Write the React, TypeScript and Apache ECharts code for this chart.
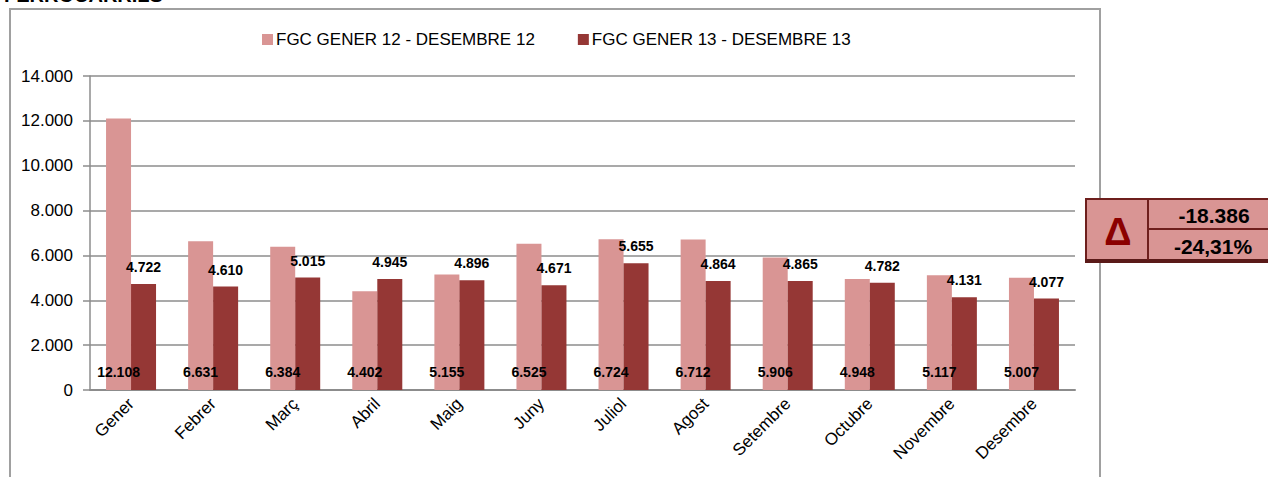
import React, { useEffect, useRef } from "react";
import * as echarts from "echarts";

const months = ["Gener", "Febrer", "Març", "Abril", "Maig", "Juny", "Juliol", "Agost", "Setembre", "Octubre", "Novembre", "Desembre"];
const series12 = [12108, 6631, 6384, 4402, 5155, 6525, 6724, 6712, 5906, 4948, 5117, 5007];
const series13 = [4722, 4610, 5015, 4945, 4896, 4671, 5655, 4864, 4865, 4782, 4131, 4077];
const seriesNames = ["FGC GENER 12 - DESEMBRE 12", "FGC GENER 13 - DESEMBRE 13"];
const deltaAbs = "-18.386";
const deltaPct = "-24,31%";
const titleText = "FERROCARRILS";

const fmt = (v: number) => {
  const s = Math.round(v).toString();
  return s.replace(/\B(?=(\d{3})+(?!\d))/g, ".");
};

const FONT = "'Liberation Sans', Arial, sans-serif";
const PINK = "#D99594";
const DARK = "#953735";
const GRID = "#8c8c8c";
const FRAME = "#a0a0a0";
const BOXBORDER = "#6e1f1d";

export default function App() {
  const ref = useRef<HTMLDivElement>(null);
  useEffect(() => {
    if (!ref.current) return;
    const chart = echarts.init(ref.current, null, { renderer: "svg" });
    chart.setOption({
      animation: false,
      backgroundColor: "#ffffff",
      textStyle: { fontFamily: FONT },
      grid: { left: 90, top: 76, right: 193, bottom: 87, containLabel: false },
      legend: {
        left: 257,
        top: 26,
        itemWidth: 11,
        itemHeight: 11,
        itemGap: 43,
        icon: "rect",
        textStyle: { fontSize: 17, color: "#000", fontFamily: FONT, padding: [0, 0, 0, -2] },
        data: seriesNames,
      },
      xAxis: {
        type: "category",
        data: months,
        axisLine: { lineStyle: { color: GRID, width: 2 } },
        axisTick: { show: false },
        axisLabel: { rotate: 45, fontSize: 17, color: "#000", margin: 11, interval: 0, fontFamily: FONT },
      },
      yAxis: {
        type: "value",
        min: 0,
        max: 14000,
        interval: 2000,
        axisLine: { show: true, lineStyle: { color: GRID, width: 1.5 } },
        axisTick: { show: true, length: 7, lineStyle: { color: GRID, width: 1.5 } },
        splitLine: { lineStyle: { color: GRID, width: 1.5 } },
        axisLabel: { fontSize: 17, color: "#000", margin: 17, formatter: (v: number) => fmt(v), fontFamily: FONT },
      },
      series: [
        {
          name: seriesNames[0],
          type: "bar",
          data: series12,
          barWidth: 25,
          barGap: "0%",
          itemStyle: { color: PINK },
          label: {
            show: true,
            position: "insideBottom",
            distance: 11,
            fontSize: 14,
            fontWeight: "bold",
            color: "#000",
            fontFamily: FONT,
            formatter: (p: any) => fmt(p.value),
          },
        },
        {
          name: seriesNames[1],
          type: "bar",
          data: series13,
          barWidth: 25,
          barGap: "0%",
          itemStyle: { color: DARK },
          label: {
            show: true,
            position: "top",
            distance: 10,
            fontSize: 14,
            fontWeight: "bold",
            color: "#000",
            fontFamily: FONT,
            formatter: (p: any) => fmt(p.value),
          },
        },
      ],
      graphic: [
        { type: "text", left: 4, top: -15, style: { text: titleText, font: `bold 20px ${FONT}`, fill: "#000" } },
        { type: "line", shape: { x1: 10, y1: 9, x2: 10, y2: 480 }, style: { stroke: FRAME, lineWidth: 2 } },
        { type: "line", shape: { x1: 9, y1: 9, x2: 1101, y2: 9 }, style: { stroke: FRAME, lineWidth: 2 } },
        { type: "line", shape: { x1: 1100, y1: 9, x2: 1100, y2: 480 }, style: { stroke: FRAME, lineWidth: 2 } },
        { type: "rect", shape: { x: 1086, y: 199, width: 190, height: 61 }, style: { fill: PINK, stroke: BOXBORDER, lineWidth: 2 } },
        { type: "line", shape: { x1: 1085, y1: 261, x2: 1270, y2: 261 }, style: { stroke: "#5a1a18", lineWidth: 4 } },
        { type: "line", shape: { x1: 1148, y1: 199, x2: 1148, y2: 260 }, style: { stroke: BOXBORDER, lineWidth: 2 } },
        { type: "line", shape: { x1: 1148, y1: 229, x2: 1270, y2: 229 }, style: { stroke: BOXBORDER, lineWidth: 2 } },
        { type: "text", x: 1118, y: 232, style: { text: "Δ", font: `bold 38px ${FONT}`, fill: "#8B0000", textAlign: "center", textVerticalAlign: "middle" } },
        { type: "text", x: 1214, y: 215, style: { text: deltaAbs, font: `bold 21px ${FONT}`, fill: "#000", textAlign: "center", textVerticalAlign: "middle" } },
        { type: "text", x: 1213, y: 246, style: { text: deltaPct, font: `bold 21px ${FONT}`, fill: "#000", textAlign: "center", textVerticalAlign: "middle" } },
      ],
    });
    return () => chart.dispose();
  }, []);
  return <div ref={ref} style={{ position: "absolute", left: 0, top: 0, width: 1268, height: 477 }} />;
}
